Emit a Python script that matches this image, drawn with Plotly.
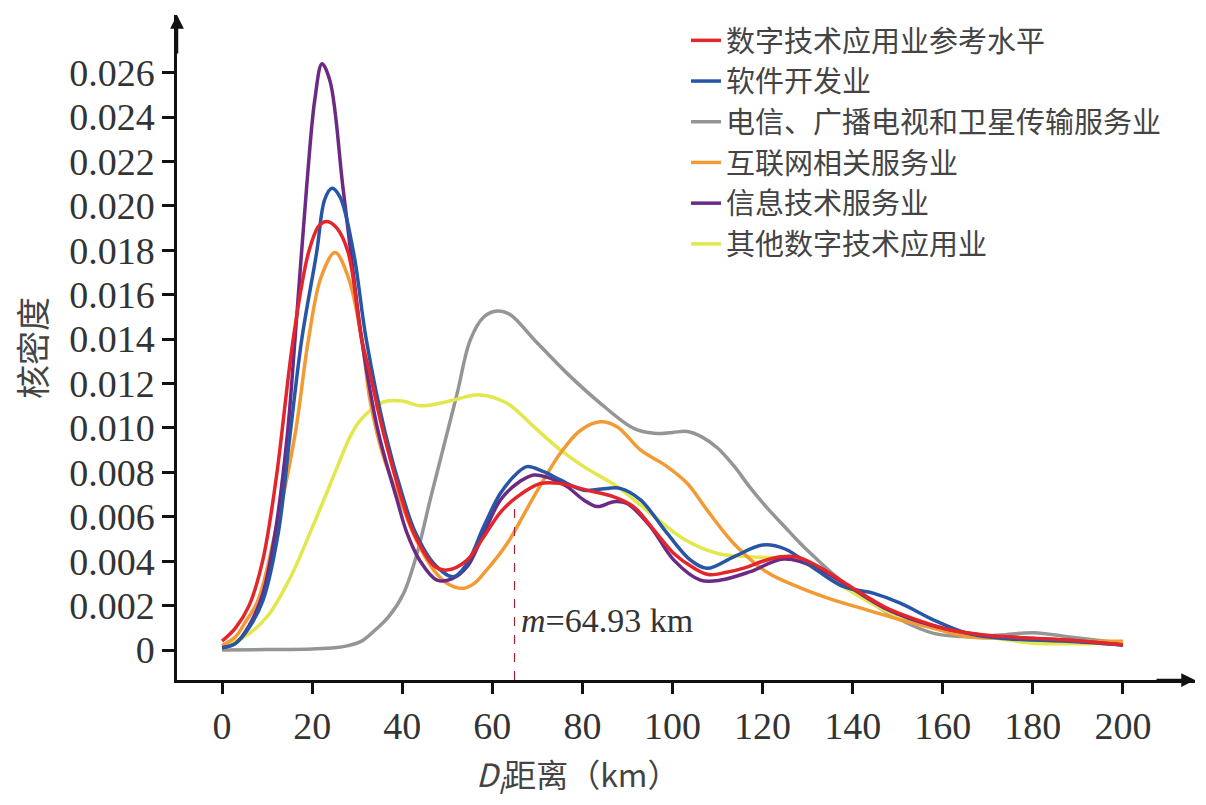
import plotly.graph_objects as go
import numpy as np

# ---------------- data ----------------
names = ["数字技术应用业参考水平", "软件开发业", "电信、广播电视和卫星传输服务业",
         "互联网相关服务业", "信息技术服务业", "其他数字技术应用业"]

red_x = [0, 3, 6, 9, 12, 15.8, 19.2, 21.5, 23.3, 25.5, 28, 31, 33, 35.8, 39.9, 42.5, 47, 49.9,
         54.4, 58.1, 61.8, 65.5, 70.7, 75.1, 81, 87, 91.4, 95.9, 100.3, 104.7, 108, 112, 116, 120,
         124, 127.5, 132, 139.6, 147, 154.4, 161.8, 169.2, 180.2, 187.7, 200]
red_y = [0.0004, 0.0010, 0.0020, 0.0040, 0.0077, 0.0140, 0.0179, 0.0191, 0.0193, 0.0190, 0.0179, 0.0140,
         0.0123, 0.0098, 0.0068, 0.0053, 0.0038, 0.0036,
         0.00405, 0.0051, 0.0062, 0.0069, 0.0075, 0.0075, 0.0072, 0.0069, 0.00645, 0.0054, 0.00435, 0.0037,
         0.0034, 0.0035, 0.0037, 0.0040, 0.0042, 0.0042, 0.0038, 0.00285, 0.00195, 0.00135, 0.0009,
         0.00068, 0.00053, 0.00045, 0.00023]

blue_x = [0, 3, 6, 9.1, 12.5, 15.1, 17.7, 21, 22.8, 24.4, 26.2, 29.2, 32, 36.2, 40.3, 42.9, 47, 51.4, 54.4,
          58.1, 61.8, 65.5, 67.7, 71.4, 75.1, 80.3, 85.5, 88.4, 92.9, 98.8, 104, 107.7, 113.6, 120, 125,
          132, 138, 144.7, 150.7, 158, 165.5, 172.9, 180.2, 187.7, 200]
blue_y = [0.0001, 0.0003, 0.0010, 0.00225, 0.0053, 0.0097, 0.0140, 0.0179, 0.0203, 0.0208, 0.0204, 0.0179,
          0.0140, 0.0098, 0.0068, 0.0053, 0.0039, 0.0033, 0.0039,
          0.00556, 0.00706, 0.00796, 0.00826, 0.00803, 0.00766, 0.0072, 0.00728, 0.00728, 0.00676, 0.00526,
          0.00405, 0.00368, 0.0042, 0.00473, 0.00455, 0.0036, 0.00285, 0.00255, 0.0021, 0.00135, 0.00075,
          0.00053, 0.00045, 0.0004, 0.00023]

gray_x = [0, 10, 20, 25, 28, 31, 34, 37, 40.3, 43.3, 46.2, 49.2, 52.2, 55.1, 58.1, 61.2, 64, 69.2, 76.6,
          84, 91.4, 95.9, 100, 103.3, 106.5, 110, 113.6, 117.3, 121, 124.7, 128.4, 132, 135.8, 143.3,
          150.7, 158, 165.5, 172.9, 180.2, 187.7, 200]
gray_y = [0.0, 0.00002, 0.00005, 0.0001, 0.0002, 0.0004, 0.0009, 0.0015, 0.00255, 0.00436, 0.00676,
          0.00916, 0.01156, 0.01396, 0.0150, 0.01527, 0.0151, 0.0140, 0.01246, 0.01111,
          0.00998, 0.00976, 0.0098, 0.00984, 0.0096, 0.0091, 0.0083, 0.0073, 0.0064, 0.0056, 0.0048,
          0.0041, 0.0034, 0.00225, 0.00135, 0.00075, 0.0006, 0.00068, 0.00078, 0.0006, 0.0003]

orange_x = [0, 3, 5, 8, 11.8, 16.2, 19.2, 22, 25.1, 28, 31, 32.9, 36, 40, 43, 47, 50, 53.6, 56, 58.1, 63.3,
            69.2, 75.1, 79.6, 84, 87.7, 92.9, 98.8, 103.3, 107.7, 113.6, 121, 128.4, 135.8, 143.3,
            150.7, 158, 165.5, 172.9, 180.2, 190, 200]
orange_y = [0.0002, 0.0006, 0.0012, 0.00225, 0.0053, 0.0097, 0.0140, 0.0168, 0.0179, 0.0168, 0.0140, 0.0112,
            0.0086, 0.0065, 0.0050, 0.0036, 0.0030, 0.00278, 0.0030, 0.00345, 0.0048,
            0.0069, 0.00886, 0.0099, 0.01028, 0.01006, 0.00901, 0.00826, 0.0075, 0.0063, 0.0048, 0.0035,
            0.0028, 0.00225, 0.0018, 0.00135, 0.00098, 0.0006, 0.00053, 0.00045, 0.0004, 0.0004]

purple_x = [0, 3, 6, 9, 11.8, 14.5, 16.2, 18.8, 20.6, 22.2, 24, 26.8, 29, 31, 34.7, 38.8, 41, 44, 47.7,
            51, 54.4, 58.1, 61.8, 65.5, 69.2, 72.9, 76.6, 80.3, 83.3, 87, 89.9, 95.1, 100.3, 106.2,
            110.7, 117.3, 124.7, 132, 139.6, 147, 154.4, 161.8, 169.2, 180.2, 187.7, 200]
purple_y = [0.0001, 0.0003, 0.0011, 0.0025, 0.0053, 0.0097, 0.0140, 0.0209, 0.0248, 0.0264, 0.0256, 0.0209,
            0.0172, 0.0140, 0.0098, 0.0068, 0.0053, 0.0040, 0.00315,
            0.0032, 0.00375, 0.00526, 0.00676, 0.0075, 0.00788, 0.00773, 0.00736, 0.00676, 0.00646,
            0.00668, 0.0066, 0.00556, 0.00405, 0.00315, 0.00315, 0.00353, 0.0041, 0.0037, 0.0028,
            0.0019, 0.0013, 0.0009, 0.00066, 0.00052, 0.00044, 0.00023]

yellow_x = [0, 5, 10, 15, 20, 25.5, 28.4, 30.5, 33, 36, 40, 44, 48, 51.4, 57.3, 63.3, 69.2, 75.1,
            80.3, 87.7, 95.1, 102.5, 110, 117.3, 124.7, 128.4, 135, 147, 158, 172.9, 180.2, 187.7, 200]
yellow_y = [0.0002, 0.0006, 0.0015, 0.0032, 0.0055, 0.0082, 0.0096, 0.0103, 0.0108, 0.01118, 0.01122,
            0.0110, 0.0111, 0.01126, 0.01149, 0.01111, 0.01006, 0.00901, 0.00826, 0.00736, 0.00616,
            0.0050, 0.00435, 0.0042, 0.00413, 0.0040, 0.0032, 0.0018, 0.00098, 0.0005, 0.0003, 0.00028,
            0.0003]

median_value = 64.93
x_ticks = list(range(0, 201, 20))
y_ticks = [i * 0.002 for i in range(14)]
y_ticktext = ["0"] + [f"{v:.3f}" for v in y_ticks[1:]]

colors = ["#e3262b", "#2756a6", "#959595", "#f39a34", "#6c2a85", "#e2e84c"]
series = [(red_x, red_y), (blue_x, blue_y), (gray_x, gray_y), (orange_x, orange_y),
          (purple_x, purple_y), (yellow_x, yellow_y)]

# drawing order (back to front): gray, yellow, orange, purple, blue, red
draw_order = [2, 5, 3, 4, 1, 0]

fig = go.Figure()
for idx in draw_order:
    xs, ys = series[idx]
    fig.add_trace(go.Scatter(
        x=xs, y=ys, mode="lines", name=names[idx],
        line=dict(color=colors[idx], width=3.5, shape="spline", smoothing=1.0),
        legendrank=idx + 1,
    ))

# median marker line from axis to the reference curve
m_y = float(np.interp(median_value, red_x, red_y))
fig.add_shape(type="line", x0=median_value, x1=median_value, y0=-0.00135, y1=m_y,
              xref="x", yref="y", line=dict(color="#a3222e", width=1.2, dash="dash"))
fig.add_annotation(x=median_value + 1.0, y=0.00135, xref="x", yref="y", xanchor="left",
                   yanchor="middle", showarrow=False,
                   text=f"<i>m</i>={median_value:.2f} km",
                   font=dict(family="Liberation Serif", size=34, color="#333333"))

# axis arrows
fig.add_annotation(x=1, y=0, xref="paper", yref="paper", ax=-40, ay=0, text="",
                   showarrow=True, arrowhead=2, arrowsize=1.1, arrowwidth=2.5,
                   arrowcolor="#111111", standoff=0)
fig.add_annotation(x=0, y=1, xref="paper", yref="paper", ax=0, ay=40, text="",
                   showarrow=True, arrowhead=2, arrowsize=1.1, arrowwidth=2.5,
                   arrowcolor="#111111", standoff=0)

# axis titles
fig.add_annotation(x=-0.143, y=0.50, xref="paper", yref="paper", xanchor="center", yanchor="middle",
                   text="核密度", textangle=-90, showarrow=False,
                   font=dict(family="Noto Sans CJK SC", size=34, color="#444444"))
fig.add_annotation(x=0.394, y=-0.183, xref="paper", yref="paper", xanchor="center", yanchor="bottom",
                   text="<i>D</i><sub><i>i</i></sub>距离（km）", showarrow=False,
                   font=dict(family="Noto Sans CJK SC", size=32, color="#444444"))

fig.update_xaxes(range=[-10, 216], tickvals=x_ticks, ticktext=[str(v) for v in x_ticks],
                 ticks="outside", ticklen=11, tickwidth=2.5, tickcolor="#111111",
                 showline=True, linewidth=2.5, linecolor="#111111",
                 showgrid=False, zeroline=False,
                 tickfont=dict(family="Liberation Serif", size=38, color="#333333"))
fig.update_yaxes(range=[-0.00135, 0.0286], tickvals=y_ticks, ticktext=y_ticktext,
                 ticks="outside", ticklen=12, tickwidth=2.5, tickcolor="#111111",
                 showline=True, linewidth=2.5, linecolor="#111111",
                 showgrid=False, zeroline=False,
                 tickfont=dict(family="Liberation Serif", size=38, color="#333333"))

# page body has an 8px default margin, so the figure is 8px smaller than the window
fig.update_layout(
    width=1198, height=797,
    margin=dict(l=169, r=11, t=7, b=125),
    plot_bgcolor="white", paper_bgcolor="white",
    showlegend=True,
    legend=dict(x=0.50, y=1.0, xanchor="left", yanchor="top",
                bgcolor="rgba(0,0,0,0)", borderwidth=0,
                font=dict(family="Noto Sans CJK SC", size=29, color="#444444")),
)

fig.write_html("out.html")
